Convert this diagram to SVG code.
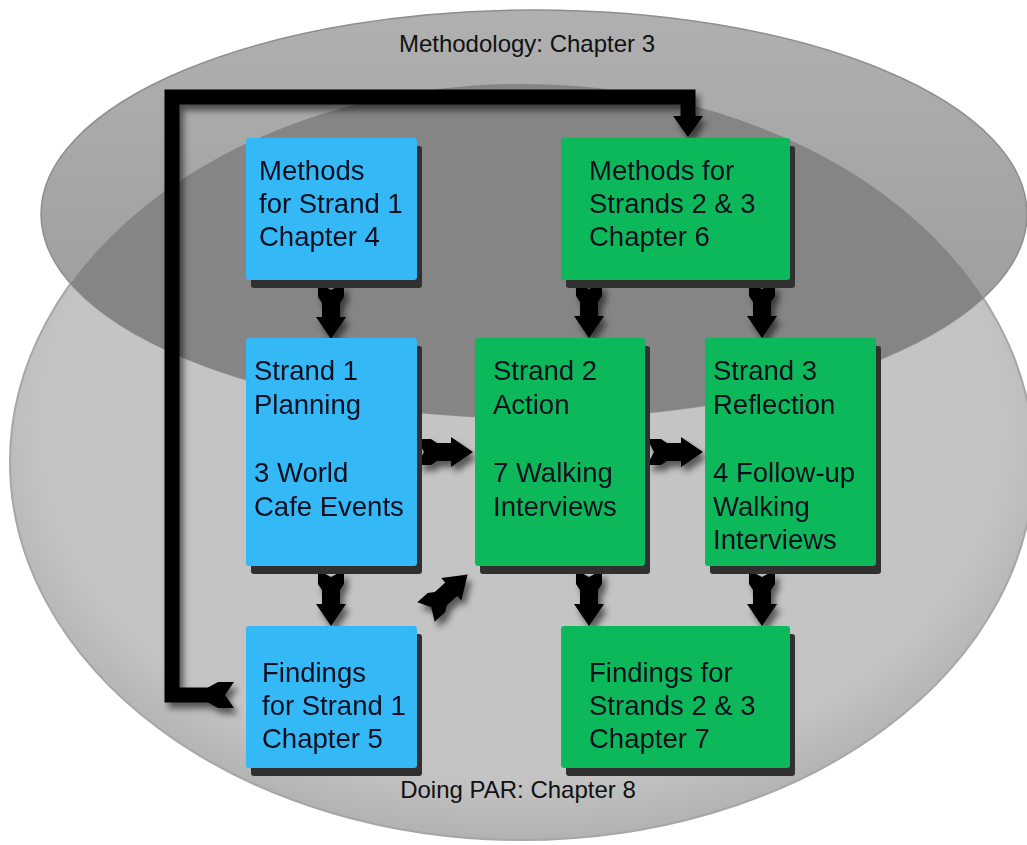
<svg xmlns="http://www.w3.org/2000/svg" width="1027" height="845" viewBox="0 0 1027 845">
  <defs>
    <style>
      .t { font-family: "Liberation Sans", Arial, sans-serif; font-size: 27.5px; fill: #0d0f1e; }
      .title { font-family: "Liberation Sans", Arial, sans-serif; font-size: 24px; fill: #111; text-anchor: middle; }
      .blue { fill: #35b8f6; }
      .green { fill: #0db85b; }
      .shadow { fill: #303030; }
      .arrow { fill: #000; }
    </style>
    <clipPath id="clipBottom">
      <ellipse cx="522" cy="462" rx="512" ry="378"/>
    </clipPath>
    <linearGradient id="gTop" x1="0" y1="0" x2="0" y2="1">
      <stop offset="0" stop-color="#b0b0b0"/>
      <stop offset="1" stop-color="#989898"/>
    </linearGradient>
    <radialGradient id="gBottom" cx="0.5" cy="0.45" r="0.55">
      <stop offset="0.85" stop-color="#c4c4c4"/>
      <stop offset="1" stop-color="#b2b2b2"/>
    </radialGradient>
    <filter id="ds" x="-30%" y="-30%" width="160%" height="160%">
      <feDropShadow dx="4" dy="6" stdDeviation="3" flood-color="#000" flood-opacity="0.55"/>
    </filter>
    <path id="arr" d="M0,-13 L14,-13 L20,-9 L34,-9 L34,-15 L56,0 L34,15 L34,9 L20,9 L14,13 L0,13 L7,0 Z"/>
  </defs>

  <rect width="1027" height="845" fill="#fff"/>

  <g id="ellipses">
    <ellipse cx="522" cy="462" rx="512" ry="378" fill="url(#gBottom)" stroke="#a6a6a6" stroke-width="2"/>
    <ellipse cx="534" cy="214" rx="493" ry="204" fill="url(#gTop)" stroke="#8e8e8e" stroke-width="1.5"/>
    <ellipse cx="534" cy="214" rx="493" ry="204" fill="#858585" clip-path="url(#clipBottom)"/>
  </g>

  <g id="labels">
    <text class="title" x="527" y="52">Methodology: Chapter 3</text>
    <text class="title" x="518" y="798">Doing PAR: Chapter 8</text>
  </g>

  <g id="connectors" filter="url(#ds)">
    <path d="M214,695 L172,695 L172,97 L688,97 L688,118" fill="none" stroke="#000" stroke-width="15" stroke-linejoin="miter"/>
    <polygon class="arrow" points="673,116 703,116 688,137"/>
    <polygon class="arrow" points="208,687.5 218,682 234,682 225,695 234,708 218,708 208,702.5"/>
    <use href="#arr" class="arrow" transform="translate(331,283) rotate(90)"/>
    <use href="#arr" class="arrow" transform="translate(331,570) rotate(90)"/>
    <use href="#arr" class="arrow" transform="translate(589,282) rotate(90)"/>
    <use href="#arr" class="arrow" transform="translate(762,282) rotate(90)"/>
    <use href="#arr" class="arrow" transform="translate(589,570) rotate(90)"/>
    <use href="#arr" class="arrow" transform="translate(762,570) rotate(90)"/>
    <use href="#arr" class="arrow" transform="translate(417,452)"/>
    <use href="#arr" class="arrow" transform="translate(647,452)"/>
    <use href="#arr" class="arrow" transform="translate(426,612) rotate(-42)"/>
  </g>

  <g id="node-methods1">
    <rect class="shadow" x="251" y="146" width="171" height="142" rx="3"/>
    <rect class="blue" x="246" y="138" width="171" height="142" rx="3"/>
    <text class="t" x="259" y="180">Methods</text>
    <text class="t" x="259" y="213">for Strand 1</text>
    <text class="t" x="259" y="246">Chapter 4</text>
  </g>

  <g id="node-methods23">
    <rect class="shadow" x="566" y="146" width="229" height="142" rx="3"/>
    <rect class="green" x="561" y="138" width="229" height="142" rx="3"/>
    <text class="t" x="589" y="180">Methods for</text>
    <text class="t" x="589" y="213">Strands 2 &amp; 3</text>
    <text class="t" x="589" y="246">Chapter 6</text>
  </g>

  <g id="node-strand1">
    <rect class="shadow" x="251" y="346" width="171" height="228" rx="3"/>
    <rect class="blue" x="246" y="338" width="171" height="228" rx="3"/>
    <text class="t" x="254" y="380">Strand 1</text>
    <text class="t" x="254" y="414">Planning</text>
    <text class="t" x="254" y="482">3 World</text>
    <text class="t" x="254" y="516">Cafe Events</text>
  </g>

  <g id="node-strand2">
    <rect class="shadow" x="480" y="346" width="170" height="228" rx="3"/>
    <rect class="green" x="475" y="338" width="170" height="228" rx="3"/>
    <text class="t" x="493" y="380">Strand 2</text>
    <text class="t" x="493" y="414">Action</text>
    <text class="t" x="493" y="482">7 Walking</text>
    <text class="t" x="493" y="516">Interviews</text>
  </g>

  <g id="node-strand3">
    <rect class="shadow" x="710" y="346" width="171" height="228" rx="3"/>
    <rect class="green" x="705" y="338" width="171" height="228" rx="3"/>
    <text class="t" x="713" y="380">Strand 3</text>
    <text class="t" x="713" y="414">Reflection</text>
    <text class="t" x="713" y="482">4 Follow-up</text>
    <text class="t" x="713" y="516">Walking</text>
    <text class="t" x="713" y="549">Interviews</text>
  </g>

  <g id="node-findings1">
    <rect class="shadow" x="251" y="634" width="171" height="142" rx="3"/>
    <rect class="blue" x="246" y="626" width="171" height="142" rx="3"/>
    <text class="t" x="262" y="682">Findings</text>
    <text class="t" x="262" y="715">for Strand 1</text>
    <text class="t" x="262" y="748">Chapter 5</text>
  </g>

  <g id="node-findings23">
    <rect class="shadow" x="566" y="634" width="229" height="142" rx="3"/>
    <rect class="green" x="561" y="626" width="229" height="142" rx="3"/>
    <text class="t" x="589" y="682">Findings for</text>
    <text class="t" x="589" y="715">Strands 2 &amp; 3</text>
    <text class="t" x="589" y="748">Chapter 7</text>
  </g>
</svg>
